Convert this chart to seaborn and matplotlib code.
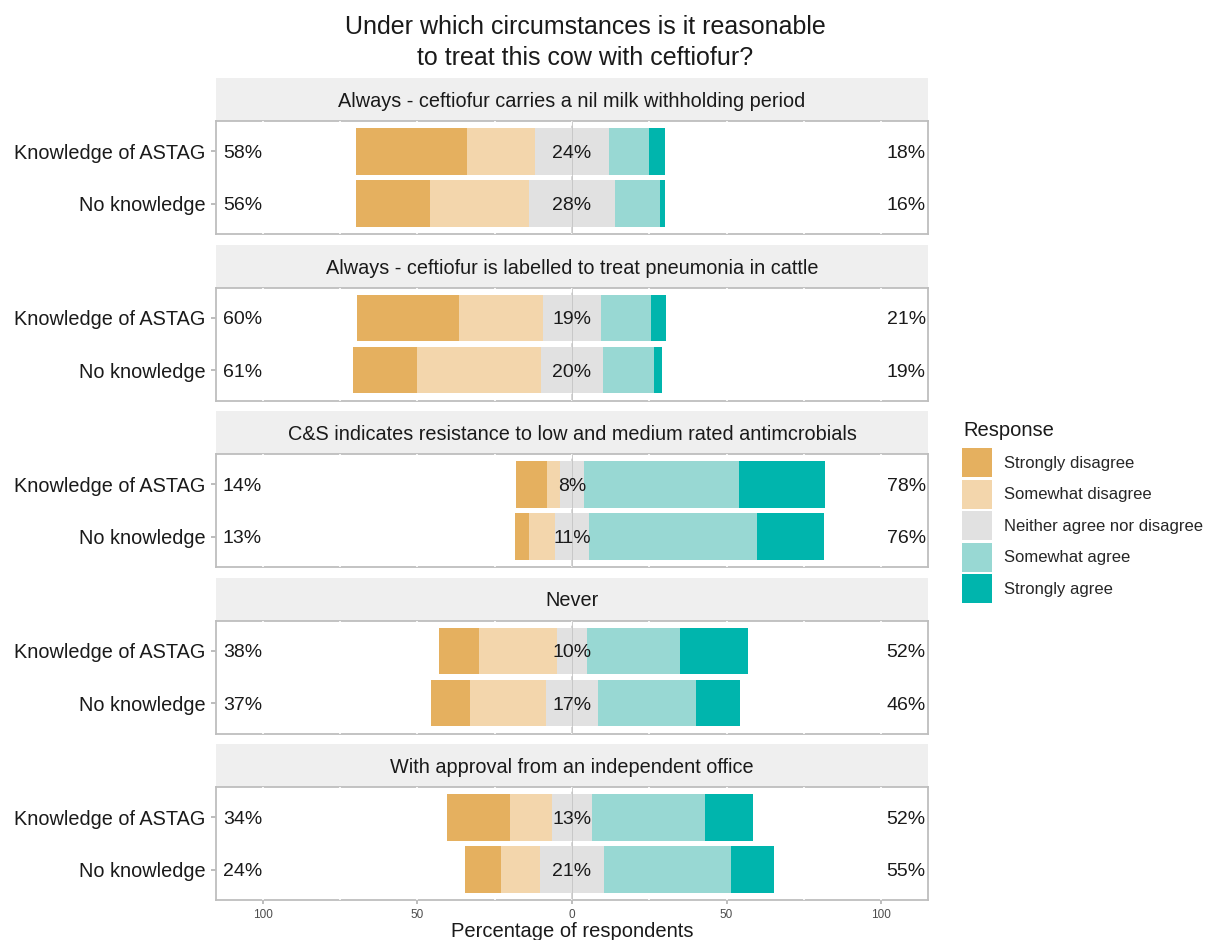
import matplotlib
matplotlib.use("Agg")
import matplotlib.pyplot as plt
from matplotlib.patches import Patch
import seaborn as sns

questions = [
    "Always - ceftiofur carries a nil milk withholding period",
    "Always - ceftiofur is labelled to treat pneumonia in cattle",
    "C&S indicates resistance to low and medium rated antimcrobials",
    "Never",
    "With approval from an independent office",
]
groups = ["Knowledge of ASTAG", "No knowledge"]
responses = ["Strongly disagree", "Somewhat disagree", "Neither agree nor disagree",
             "Somewhat agree", "Strongly agree"]
palette = ["#E5B05F", "#F3D6AC", "#E1E1E1", "#98D8D3", "#00B5AD"]

# one value per (question, group), question-major order
strongly_disagree = [36, 24, 33, 21, 10, 4.5, 13, 12.5, 20.5, 11.5]
somewhat_disagree = [22, 32, 27, 40, 4, 8.5, 25, 24.5, 13.5, 12.5]
neutral = [24, 28, 19, 20, 8, 11, 10, 17, 13, 21]
somewhat_agree = [13, 14.5, 16, 16.5, 50, 54.5, 30, 31.5, 36.5, 41]
strongly_agree = [5, 1.5, 5, 2.5, 28, 21.5, 22, 14.5, 15.5, 14]

sns.set_theme(style="white")
plt.rcParams["font.family"] = ["Liberation Sans", "DejaVu Sans"]

W, H = 1207, 940
fig = plt.figure(figsize=(W / 100, H / 100), dpi=100)

left_px, right_px = 216, 928
for k, q in enumerate(questions):
    strip_top = 78 + k * 166.5
    strip_bot = strip_top + 43
    panel_bot = strip_bot + 113

    sax = fig.add_axes([left_px / W, 1 - strip_bot / H, (right_px - left_px) / W, 43 / H])
    sax.set_facecolor("#EFEFEF")
    sax.set_xticks([])
    sax.set_yticks([])
    for s in sax.spines.values():
        s.set_visible(False)
    sax.text(0.5, 0.5, q, ha="center", va="center_baseline", fontsize=14.3, color="#1A1A1A",
             transform=sax.transAxes)

    ax = fig.add_axes([left_px / W, 1 - panel_bot / H, (right_px - left_px) / W, 113 / H])
    i0 = 2 * k
    sd = strongly_disagree[i0:i0 + 2]
    swd = somewhat_disagree[i0:i0 + 2]
    nn = neutral[i0:i0 + 2]
    sa = somewhat_agree[i0:i0 + 2]
    sta = strongly_agree[i0:i0 + 2]

    half = [v / 2 for v in nn]
    layers = [
        ([-(h + b + a) for h, a, b in zip(half, sd, swd)], palette[0]),
        ([-(h + b) for h, b in zip(half, swd)], palette[1]),
        ([-h for h in half], palette[2]),
        ([h + a + b for h, a, b in zip(half, sa, sta)], palette[4]),
        ([h + a for h, a in zip(half, sa)], palette[3]),
        (half, palette[2]),
    ]
    for vals, col in layers:
        sns.barplot(x=vals, y=groups, color=col, width=0.9, saturation=1,
                    orient="h", ax=ax, zorder=4, linewidth=0)

    for xv in range(-100, 101, 25):
        ax.axvline(xv, color="white", lw=1.2, zorder=3)
    ax.axvline(0, color="black", lw=1.3, ls=(0, (4, 3)), zorder=1)
    ax.axvline(0, color="#C4C4C4", lw=0.6, zorder=5)

    for j in range(2):
        ax.text(-113, j, f"{round(sd[j] + swd[j])}%", ha="left", va="center_baseline",
                fontsize=14, color="#1A1A1A", zorder=6)
        ax.text(0, j, f"{round(nn[j])}%", ha="center", va="center_baseline",
                fontsize=14, color="#1A1A1A", zorder=6)
        ax.text(114.5, j, f"{round(sa[j] + sta[j])}%", ha="right", va="center_baseline",
                fontsize=14, color="#1A1A1A", zorder=6)

    ax.set_xlim(-115.2, 115.2)
    ax.set_ylim(1.585, -0.585)
    ax.set_ylabel("")
    ax.set_xticks([-100, -50, 0, 50, 100])
    ax.set_yticks([0, 1])
    ax.set_yticklabels(groups, va="center_baseline")
    ax.tick_params(axis="y", labelsize=14.3, labelcolor="#1A1A1A", length=3.5,
                   color="#B5B5B5", left=True, pad=4)
    for s in ax.spines.values():
        s.set_color("#BEBEBE")
        s.set_linewidth(1.3)
    if k == len(questions) - 1:
        ax.tick_params(axis="x", length=3, color="#B5B5B5", bottom=True)
        ax.set_xticklabels(["100", "50", "0", "50", "100"], fontsize=8.5, color="#4D4D4D")
        ax.set_xlabel("Percentage of respondents", fontsize=14.5, color="#1A1A1A", labelpad=1)
    else:
        ax.tick_params(axis="x", bottom=False, labelbottom=False)

fig.text(585 / W, 1 - 15 / H, "Under which circumstances is it reasonable\nto treat this cow with ceftiofur?",
         ha="center", va="top", fontsize=18, color="#1A1A1A", linespacing=1.36)

fig.text(963 / W, 1 - 429 / H, "Response", ha="left", va="center_baseline",
         fontsize=14.5, color="#1A1A1A")
handles = [Patch(facecolor=c, edgecolor="none") for c in palette]
fig.legend(handles, responses, loc="upper left",
           bbox_to_anchor=(962 / W, 1 - 448 / H), frameon=False, fontsize=12,
           borderpad=0, borderaxespad=0,
           handlelength=1.8, handleheight=2.3, labelspacing=0.15, handletextpad=0.7)

fig.savefig("out.png", dpi=100)
